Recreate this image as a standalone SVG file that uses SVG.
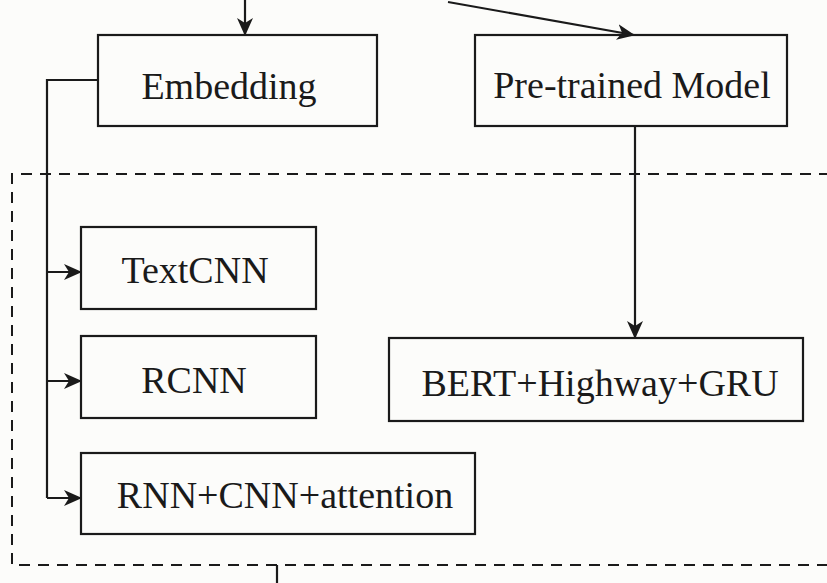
<svg xmlns="http://www.w3.org/2000/svg" width="827" height="583" viewBox="0 0 827 583">
<style>
.box{fill:none;stroke:#1a1a1a;stroke-width:2.2}
.ln{fill:none;stroke:#1a1a1a;stroke-width:2.2}
.dash{fill:none;stroke:#1a1a1a;stroke-width:2;stroke-dasharray:11 8}
text{font-family:"Liberation Serif","Times New Roman",serif;font-size:38px;fill:#1a1a1a;text-anchor:middle}
</style>
<defs>
<marker id="ah" viewBox="0 0 18 16" refX="17" refY="8" markerWidth="18" markerHeight="16" markerUnits="userSpaceOnUse" orient="auto">
<path d="M0,0 L18,8 L0,16 L5,8 Z" fill="#1a1a1a"/>
</marker>
</defs>
<rect width="827" height="583" fill="#fcfcfa"/>
<g id="container">
<path class="dash" d="M830,174 H12 V565 H830"/>
</g>
<g id="connectors">
<line class="ln" x1="245" y1="0" x2="245" y2="35" marker-end="url(#ah)"/>
<line class="ln" x1="448" y1="2" x2="634" y2="35" marker-end="url(#ah)"/>
<path class="ln" d="M98,80 H47 V498"/>
<line class="ln" x1="47" y1="272" x2="81" y2="272" marker-end="url(#ah)"/>
<line class="ln" x1="47" y1="381" x2="81" y2="381" marker-end="url(#ah)"/>
<line class="ln" x1="47" y1="498" x2="81" y2="498" marker-end="url(#ah)"/>
<line class="ln" x1="635" y1="126" x2="635" y2="338" marker-end="url(#ah)"/>
<line class="ln" x1="277" y1="565" x2="277" y2="583"/>
</g>
<g id="embedding">
<rect class="box" x="98" y="35" width="279" height="91"/>
<text x="229" y="99">Embedding</text>
</g>
<g id="pretrained">
<rect class="box" x="475" y="35" width="312" height="91"/>
<text x="632" y="98">Pre-trained Model</text>
</g>
<g id="textcnn">
<rect class="box" x="81" y="227" width="235" height="82"/>
<text x="195" y="283">TextCNN</text>
</g>
<g id="rcnn">
<rect class="box" x="81" y="336" width="235" height="82"/>
<text x="194" y="393">RCNN</text>
</g>
<g id="rnncnn">
<rect class="box" x="81" y="453" width="394" height="81"/>
<text x="285" y="508">RNN+CNN+attention</text>
</g>
<g id="bert">
<rect class="box" x="389" y="338" width="414" height="83"/>
<text x="600" y="396">BERT+Highway+GRU</text>
</g>
</svg>
